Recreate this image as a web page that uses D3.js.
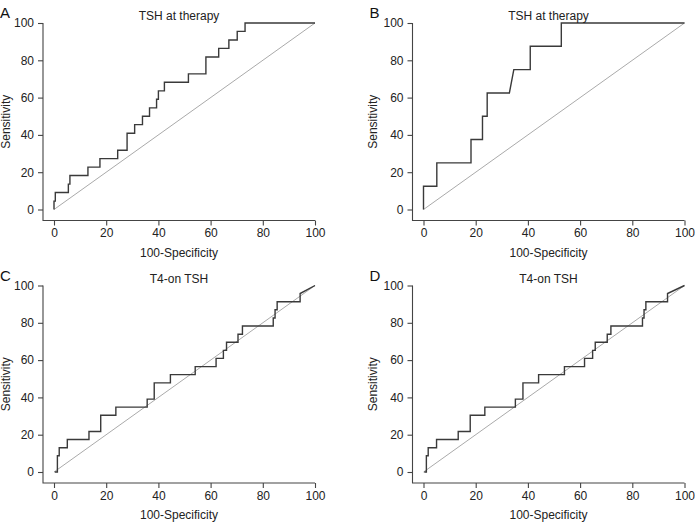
<!DOCTYPE html>
<html>
<head>
<meta charset="utf-8">
<script src="https://cdn.jsdelivr.net/npm/d3@7"></script>
<style>
  body { margin: 0; background: #fff; }
  svg { display: block; font-family: "Liberation Sans", Arial, sans-serif; }
</style>
</head>
<body>
<div id="chart"></div>
<script>
const panelLetters = ["A", "B", "C", "D"]
const panelTitles = ["TSH at therapy", "TSH at therapy", "T4-on TSH", "T4-on TSH"]
const tickValues = [0, 20, 40, 60, 80, 100]

// ROC vertices (100-specificity, sensitivity)
const fprA = [0, 0, 0.5, 0.5, 5.5, 5.5, 6.1, 6.1, 13, 13, 17.6, 17.6, 24.4, 24.4, 28, 28, 30.9, 30.9, 33.9, 33.9, 36.6, 36.6, 39.3, 39.3, 40, 40, 42.3, 42.3, 51.5, 51.5, 58.2, 58.2, 63.1, 63.1, 67, 67, 70.2, 70.2, 73.2, 73.2, 100]
const tprA = [0, 4.5, 4.5, 9.1, 9.1, 13.6, 13.6, 18.2, 18.2, 22.7, 22.7, 27.3, 27.3, 31.8, 31.8, 40.9, 40.9, 45.5, 45.5, 50, 50, 54.5, 54.5, 59.1, 59.1, 63.6, 63.6, 68.2, 68.2, 72.7, 72.7, 81.8, 81.8, 86.4, 86.4, 90.9, 90.9, 95.5, 95.5, 100, 100]

const fprB = [0, 0, 5.1, 5.1, 18.2, 18.2, 22.6, 22.6, 24.4, 24.4, 32.9, 34.6, 40.9, 40.9, 52.8, 52.8, 100]
const tprB = [0, 12.5, 12.5, 25, 25, 37.5, 37.5, 50, 50, 62.5, 62.5, 75, 75, 87.5, 87.5, 100, 100]

const fprC = [0.3, 1.3, 1.3, 2.0, 2.0, 5.1, 5.1, 13.4, 13.4, 17.9, 17.9, 23.7, 23.7, 35.7, 35.7, 38.4, 38.4, 44.6, 44.6, 54.1, 54.1, 62.1, 62.1, 64.9, 64.9, 66.1, 66.1, 70.5, 70.5, 72.2, 72.2, 84.0, 84.0, 84.7, 84.7, 85.5, 85.5, 94.3, 94.3, 100]
const tprC = [0, 0, 8.7, 8.7, 13, 13, 17.4, 17.4, 21.7, 21.7, 30.4, 30.4, 34.8, 34.8, 39.1, 39.1, 47.8, 47.8, 52.2, 52.2, 56.5, 56.5, 60.9, 60.9, 65.2, 65.2, 69.6, 69.6, 73.9, 73.9, 78.3, 78.3, 82.6, 82.6, 87, 87, 91.3, 91.3, 95.7, 100]

const fprD = [0.3, 1.1, 1.1, 1.8, 1.8, 5.0, 5.0, 13.3, 13.3, 17.9, 17.9, 23.5, 23.5, 35.2, 35.2, 38.1, 38.1, 44.1, 44.1, 54.0, 54.0, 61.7, 61.7, 64.8, 64.8, 65.8, 65.8, 70.4, 70.4, 71.8, 71.8, 83.9, 83.9, 84.5, 84.5, 85.2, 85.2, 93.5, 93.5, 100]
const tprD = tprC.slice()

const curves = [[fprA, tprA], [fprB, tprB], [fprC, tprC], [fprD, tprD]]

const width = 695, height = 525
const plotW = 261, plotH = 186.5
const origins = [[54, 23], [423.5, 23], [54, 285.5], [423.5, 285.5]]
const gap = 11 // axis lines sit off the data region, R style

const svg = d3.create("svg")
  .attr("width", width)
  .attr("height", height)
  .attr("viewBox", [0, 0, width, height])

svg.append("rect").attr("width", width).attr("height", height).attr("fill", "#fff")

curves.forEach(([fpr, tpr], i) => {
  const [left, top] = origins[i]
  const x = d3.scaleLinear().domain([0, 100]).range([left, left + plotW])
  const y = d3.scaleLinear().domain([0, 100]).range([top + plotH, top])
  const axisX = left - gap
  const axisY = top + plotH + gap

  const g = svg.append("g")

  // L shaped frame
  g.append("path")
    .attr("d", `M${axisX},${y(100)}V${axisY}H${x(100)}`)
    .attr("fill", "none")
    .attr("stroke", "#444")
    .attr("stroke-width", 1.1)

  const ax = g.append("g")
    .attr("transform", `translate(0,${axisY})`)
    .call(d3.axisBottom(x).tickValues(tickValues).tickSize(5).tickSizeOuter(0).tickPadding(3))
  const ay = g.append("g")
    .attr("transform", `translate(${axisX},0)`)
    .call(d3.axisLeft(y).tickValues(tickValues).tickSize(5).tickSizeOuter(0).tickPadding(4))
  ;[ax, ay].forEach(a => {
    a.select(".domain").remove()
    a.selectAll("line").attr("stroke", "#444").attr("stroke-width", 1.1)
    a.selectAll("text")
      .attr("fill", "#222")
      .style("font-size", "12px")
      .style("font-family", "Liberation Sans, Arial, sans-serif")
  })

  // chance line
  g.append("line")
    .attr("x1", x(0)).attr("y1", y(0))
    .attr("x2", x(100)).attr("y2", y(100))
    .attr("stroke", "#aaa")
    .attr("stroke-width", 1)

  const line = d3.line()
    .x(d => x(d[0]))
    .y(d => y(d[1]))
  g.append("path")
    .datum(fpr.map((v, k) => [v, tpr[k]]))
    .attr("d", line)
    .attr("fill", "none")
    .attr("stroke", "#3a3a3a")
    .attr("stroke-width", 1.4)

  g.append("text")
    .attr("x", (axisX + x(100)) / 2)
    .attr("y", top - 3)
    .attr("text-anchor", "middle")
    .attr("font-size", 12)
    .attr("fill", "#222")
    .text(panelTitles[i])

  g.append("text")
    .attr("x", (axisX + x(100)) / 2)
    .attr("y", axisY + 36)
    .attr("text-anchor", "middle")
    .attr("font-size", 12)
    .attr("fill", "#222")
    .text("100-Specificity")

  // keep the left column's title inside the page
  const titleX = Math.max(axisX - 36, 10)
  g.append("text")
    .attr("transform", `translate(${titleX},${(y(100) + axisY) / 2}) rotate(-90)`)
    .attr("text-anchor", "middle")
    .attr("font-size", 12)
    .attr("fill", "#222")
    .text("Sensitivity")

  g.append("text")
    .attr("x", axisX - 43)
    .attr("y", top - 5)
    .attr("font-size", 15)
    .attr("fill", "#111")
    .text(panelLetters[i])
})

document.querySelector("#chart").append(svg.node())
</script>
</body>
</html>
